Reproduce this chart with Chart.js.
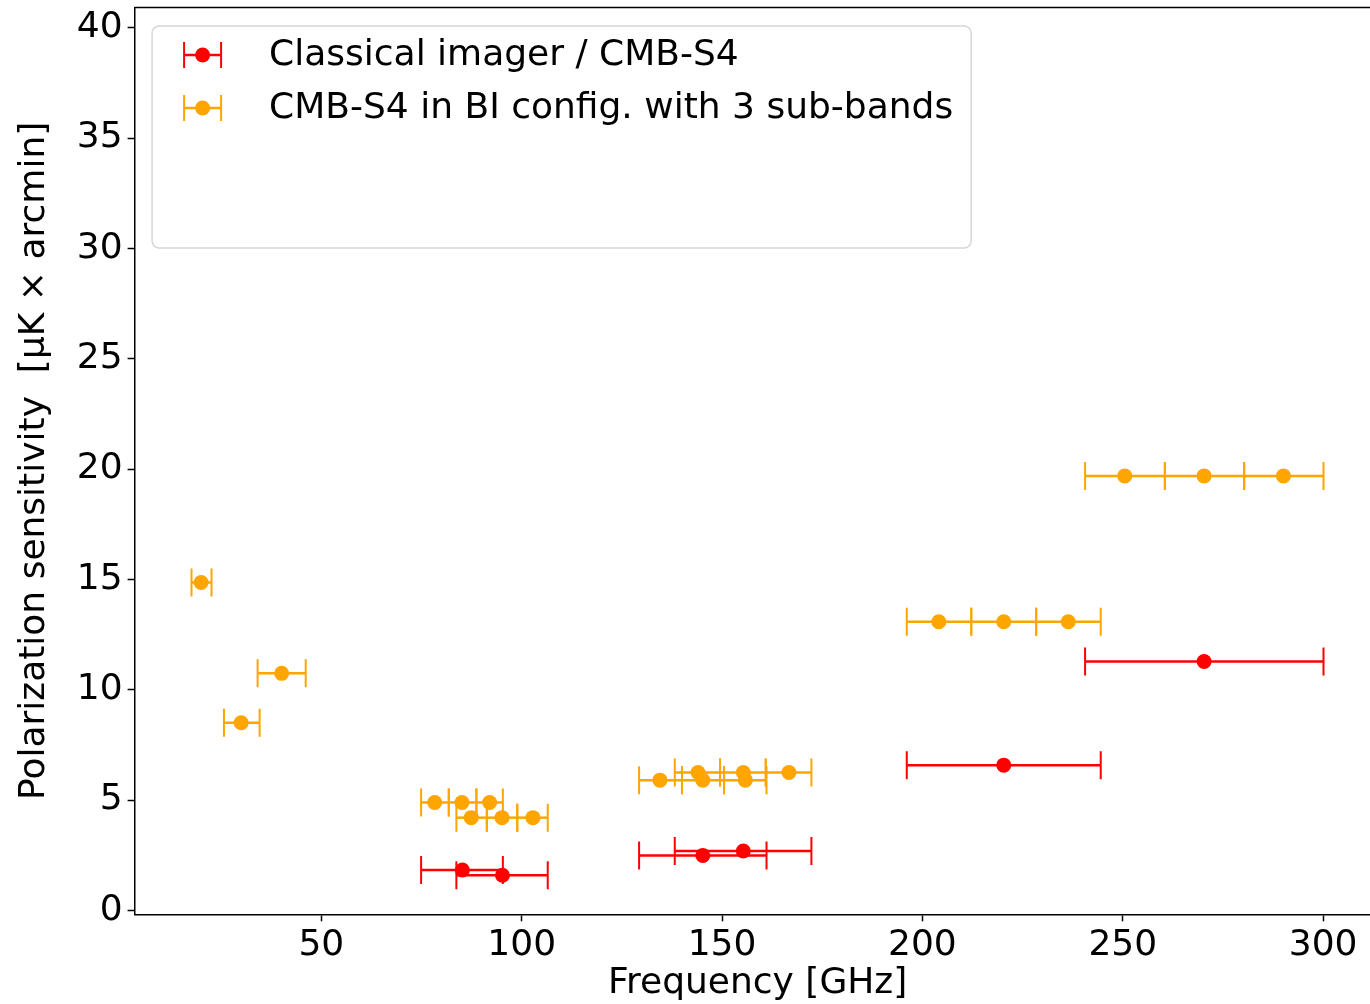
<!DOCTYPE html>
<html lang="en">
<head>
<meta charset="UTF-8">
<title>Polarization sensitivity vs frequency</title>
<script src="https://cdn.jsdelivr.net/npm/chart.js"></script>
<style>
  body { margin: 0; background: #ffffff; }
  .wrap { width: 1370px; height: 1004px; }
</style>
</head>
<body>
<div class="wrap"><canvas id="sensChart" width="1370" height="1004"></canvas></div>
<script>
  // classical imager / CMB-S4 (red)
  const classFreq = [85.2, 95.2, 145.2, 155.3, 220.3, 270.3];
  const classSens = [1.83, 1.59, 2.49, 2.69, 6.58, 11.28];
  const classLow  = [74.9, 83.7, 129.3, 138.2, 196.1, 240.6];
  const classHigh = [95.3, 106.5, 161.1, 172.3, 244.5, 300.1];

  // CMB-S4 in BI config, 3 sub-bands (orange)
  const biFreq = [20.0, 30.0, 40.1, 78.3, 85.1, 92.0, 87.4, 95.1, 102.8, 134.5, 145.2, 155.8, 144.0, 155.3, 166.7, 204.1, 220.3, 236.4, 250.5, 270.3, 290.1];
  const biSens = [14.86, 8.50, 10.74, 4.89, 4.89, 4.89, 4.20, 4.20, 4.20, 5.90, 5.90, 5.90, 6.25, 6.25, 6.25, 13.08, 13.08, 13.08, 19.69, 19.69, 19.69];
  const biLow  = [17.6, 25.7, 34.1, 74.9, 81.8, 88.7, 83.7, 91.3, 98.9, 129.3, 140.0, 150.5, 138.2, 149.5, 160.9, 196.1, 212.2, 228.4, 240.6, 260.5, 280.3];
  const biHigh = [22.6, 34.6, 46.1, 81.8, 88.7, 95.3, 91.3, 98.9, 106.5, 140.0, 150.5, 161.1, 149.5, 160.9, 172.3, 212.2, 228.4, 244.5, 260.5, 280.3, 300.1];

  const seriesNames = ['Classical imager / CMB-S4', 'CMB-S4 in BI config. with 3 sub-bands'];
  const xTicks = [50, 100, 150, 200, 250, 300];
  const yTicks = [0, 5, 10, 15, 20, 25, 30, 35, 40];

  const RED = '#ff0000';
  const ORANGE = '#ffa500';
  const FONT = "'DejaVu Sans', sans-serif";
  const CAP = 14;

  const toPoints = (xs, ys) => xs.map((x, i) => ({ x: x, y: ys[i] }));

  // horizontal error bars with caps, drawn under the markers
  const errorBars = {
    id: 'errorBars',
    beforeDatasetsDraw(chart) {
      const { ctx, scales: { x, y } } = chart;
      ctx.save();
      chart.data.datasets.forEach((ds, di) => {
        ctx.strokeStyle = ds.backgroundColor;
        ds.data.forEach((p, i) => {
          const x0 = x.getPixelForValue(ds.xLow[i]);
          const x1 = x.getPixelForValue(ds.xHigh[i]);
          const py = y.getPixelForValue(p.y);
          ctx.lineWidth = 2.5;
          ctx.beginPath();
          ctx.moveTo(x0, py); ctx.lineTo(x1, py);
          ctx.stroke();
          ctx.lineWidth = 2;
          ctx.beginPath();
          ctx.moveTo(x0, py - CAP); ctx.lineTo(x0, py + CAP);
          ctx.moveTo(x1, py - CAP); ctx.lineTo(x1, py + CAP);
          ctx.stroke();
        });
      });
      ctx.restore();
    }
  };

  // top spine, x title (centred on the full axes) and legend box
  const frameAndLegend = {
    id: 'frameAndLegend',
    afterDraw(chart) {
      const { ctx, chartArea: a } = chart;
      ctx.save();
      ctx.strokeStyle = '#000';
      ctx.lineWidth = 1.5;
      ctx.beginPath();
      ctx.moveTo(a.left, a.top); ctx.lineTo(a.right, a.top);
      ctx.stroke();

      ctx.font = '36px ' + FONT;
      ctx.fillStyle = '#000';
      ctx.textAlign = 'center';
      ctx.textBaseline = 'alphabetic';
      ctx.fillText('Frequency [GHz]', a.left + 623, a.bottom + 79);

      const bx = a.left + 17.5, by = a.top + 18.5, bw = 819, bh = 222, r = 7;
      ctx.fillStyle = 'rgba(255,255,255,0.8)';
      ctx.strokeStyle = 'rgba(204,204,204,0.8)';
      ctx.lineWidth = 1.5;
      ctx.beginPath();
      ctx.roundRect(bx, by, bw, bh, r);
      ctx.fill();
      ctx.stroke();

      ctx.textAlign = 'left';
      ctx.textBaseline = 'middle';
      chart.data.datasets.forEach((ds, i) => {
        const cy = by + 29 + i * 53;
        const hx0 = bx + 32, hx1 = bx + 69, hc = (hx0 + hx1) / 2;
        ctx.strokeStyle = ds.backgroundColor;
        ctx.lineWidth = 2.5;
        ctx.beginPath();
        ctx.moveTo(hx0, cy); ctx.lineTo(hx1, cy);
        ctx.stroke();
        ctx.lineWidth = 2;
        ctx.beginPath();
        ctx.moveTo(hx0, cy - 13); ctx.lineTo(hx0, cy + 13);
        ctx.moveTo(hx1, cy - 13); ctx.lineTo(hx1, cy + 13);
        ctx.stroke();
        ctx.fillStyle = ds.backgroundColor;
        ctx.beginPath();
        ctx.arc(hc, cy, 7.5, 0, Math.PI * 2);
        ctx.fill();
        ctx.fillStyle = '#000';
        ctx.fillText(ds.label, bx + 117, cy + 1);
      });
      ctx.restore();
    }
  };

  const ctx = document.getElementById('sensChart').getContext('2d');
  const sensChart = new Chart(ctx, {
    type: 'scatter',
    data: {
      datasets: [
        {
          label: seriesNames[0],
          data: toPoints(classFreq, classSens),
          xLow: classLow, xHigh: classHigh,
          backgroundColor: RED,
          borderWidth: 0,
          pointRadius: 7.5
        },
        {
          label: seriesNames[1],
          data: toPoints(biFreq, biSens),
          xLow: biLow, xHigh: biHigh,
          backgroundColor: ORANGE,
          borderWidth: 0,
          pointRadius: 7.5
        }
      ]
    },
    options: {
      responsive: false,
      animation: false,
      layout: { autoPadding: false, padding: { top: 7.5, right: 0, bottom: 0, left: 0 } },
      plugins: {
        legend: { display: false },
        tooltip: { enabled: false }
      },
      scales: {
        x: {
          type: 'linear',
          min: 3.4,
          max: 311.7,
          afterBuildTicks: s => { s.ticks = xTicks.map(v => ({ value: v })); },
          afterFit: s => { s.height = 89.7; s.paddingLeft = 0; s.paddingRight = 0; },
          border: { color: '#000', width: 1.5 },
          grid: { drawOnChartArea: false, drawTicks: true, tickLength: 7, tickWidth: 1.5, tickColor: '#000' },
          ticks: { color: '#000', padding: 3, maxRotation: 0, font: { family: FONT, size: 36 } },
          title: { display: false }
        },
        y: {
          type: 'linear',
          min: -0.18,
          max: 40.92,
          afterBuildTicks: s => { s.ticks = yTicks.map(v => ({ value: v })); },
          afterFit: s => { s.width = 134.6; s.paddingTop = 0; s.paddingBottom = 0; },
          border: { color: '#000', width: 1.5 },
          grid: { drawOnChartArea: false, drawTicks: true, tickLength: 7, tickWidth: 1.5, tickColor: '#000' },
          ticks: { color: '#000', padding: 5, font: { family: FONT, size: 36 } },
          title: { display: true, text: 'Polarization sensitivity  [μK × arcmin]', color: '#000', padding: { top: 13, bottom: 0 }, font: { family: FONT, size: 36 } }
        }
      }
    },
    plugins: [errorBars, frameAndLegend]
  });
</script>
</body>
</html>
